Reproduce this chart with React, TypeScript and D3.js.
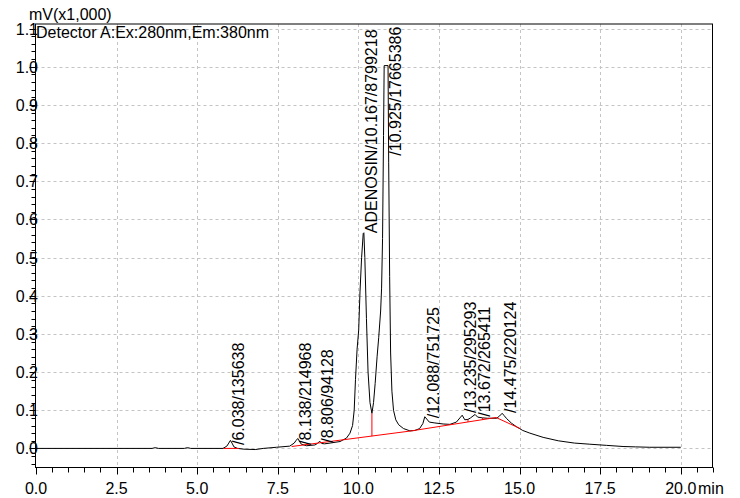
import * as d3 from 'd3';

// chromatogram trace (min, mV x1000)
const signalTime = [
  0.0, 3.6, 3.7, 3.8, 4.6, 4.7, 4.8, 5.8, 5.92, 5.98, 6.03, 6.08, 6.14, 6.25, 6.45, 6.8, 7.05, 7.46, 7.87,
  8.01, 8.06, 8.12, 8.17, 8.23, 8.39, 8.65, 8.73, 8.8, 8.86, 8.95, 9.12, 9.43, 9.63, 9.74, 9.82, 9.87,
  9.91, 9.96, 10.01, 10.05, 10.1, 10.15, 10.17, 10.2, 10.25, 10.3, 10.36, 10.42, 10.47, 10.52, 10.58,
  10.63, 10.69, 10.72, 10.75, 10.78, 10.8, 10.92, 10.94, 10.97, 11.0, 11.04, 11.09, 11.16, 11.25, 11.4,
  11.6, 11.75, 11.9, 12.0, 12.06, 12.12, 12.2, 12.35, 12.63, 12.84, 13.04, 13.15, 13.22, 13.3, 13.4,
  13.48, 13.62, 13.7, 13.85, 14.0, 14.29, 14.38, 14.46, 14.52, 14.6, 14.75, 14.9, 15.1, 15.32, 15.73,
  16.2, 16.7, 17.18, 17.7, 18.21, 18.6, 19.04, 20.0,
];
const signalMv = [
  0.0, 0.0, 0.002, 0.0, 0.0, 0.002, 0.0, 0.0, 0.006, 0.014, 0.021, 0.014, 0.004, 0.0, -0.002, -0.003, 0.0, 0.003, 0.006,
  0.014, 0.02, 0.026, 0.019, 0.011, 0.007, 0.009, 0.013, 0.019, 0.013, 0.012, 0.014, 0.018, 0.027, 0.04, 0.06, 0.1,
  0.18, 0.26, 0.31, 0.41, 0.5, 0.563, 0.565, 0.5, 0.34, 0.2, 0.12, 0.092, 0.12, 0.17, 0.24,
  0.29, 0.36, 0.42, 0.55, 0.82, 1.003, 1.003, 0.75, 0.45, 0.25, 0.15, 0.1, 0.075, 0.062, 0.052,
  0.046, 0.047, 0.052, 0.065, 0.083, 0.077, 0.069, 0.067, 0.064, 0.063, 0.069, 0.08, 0.087, 0.075, 0.076,
  0.08, 0.089, 0.082, 0.08, 0.079, 0.079, 0.085, 0.092, 0.086, 0.078, 0.066, 0.057, 0.047, 0.04, 0.029,
  0.02, 0.014, 0.011, 0.008, 0.005, 0.004, 0.003, 0.003,
];

// integration baselines (red)
const baseline1: [number, number][] = [[5.82, 0.0], [6.3, 0.0]];
const baseline2: [number, number][] = [[7.93, 0.005], [11.65, 0.046], [14.27, 0.081], [15.02, 0.052]];
const dropTimes = [10.42, 13.4, 13.85];
const dropLow = [0.032, 0.069, 0.075];
const dropHigh = [0.092, 0.076, 0.08];

// peak labels
const peakTimes = [6.038, 8.138, 8.806, 10.167, 10.925, 12.088, 13.235, 13.672, 14.475];
const peakNames = ['', '', '', 'ADENOSIN', '', '', '', '', ''];
const peakAreas = [135638, 214968, 94128, 8799218, 17665386, 751725, 295293, 265411, 220124];
const peakLabelMv = [0.009, 0.009, 0.015, 0.564, 0.767, 0.079, 0.093, 0.083, 0.093];

const xTicks = [0, 2.5, 5, 7.5, 10, 12.5, 15, 17.5, 20];
const yTicks = [0, 0.1, 0.2, 0.3, 0.4, 0.5, 0.6, 0.7, 0.8, 0.9, 1.0, 1.1];

const W = 740;
const H = 498;
const L = 35.5, R = 712.5, T = 24, B = 467.5;
const FONT = '"Liberation Sans", Arial, sans-serif';

export default function App() {
  const x = d3.scaleLinear().domain([0, 21]).range([L + 0.5, R + 0.5]);
  const y = d3.scaleLinear().domain([-0.05, 1.112]).range([B, T]);

  const pts: [number, number][] = signalTime.map((t, i) => [t, signalMv[i]]);
  const line = d3.line<[number, number]>().x(d => x(d[0])).y(d => y(d[1]));

  const minorX = d3.range(0, 21.001, 0.5);
  const minorY = d3.range(-0.04, 1.111, 0.02);

  return (
    <svg width={W} height={H} style={{ position: 'absolute', left: 0, top: 0, background: '#fff' }} fontFamily={FONT}>
      {/* grid */}
      <g stroke="#c4c4c4" strokeWidth={1} strokeDasharray="3,3">
        {xTicks.filter(t => t > 0).map(t => (
          <line key={'gx' + t} x1={Math.round(x(t)) + 0.5} x2={Math.round(x(t)) + 0.5} y1={T} y2={B} />
        ))}
        {yTicks.map(t => (
          <line key={'gy' + t} x1={L} x2={R} y1={Math.round(y(t)) + 0.5} y2={Math.round(y(t)) + 0.5} />
        ))}
      </g>

      {/* ticks */}
      <g stroke="#000" strokeWidth={1}>
        {minorX.map(t => {
          const major = Math.abs(t / 2.5 - Math.round(t / 2.5)) < 1e-6;
          const px = Math.round(x(t)) + 0.5;
          return <line key={'tx' + t} x1={px} x2={px} y1={B} y2={B + (major ? 7 : 5)} />;
        })}
        {minorY.map(t => {
          const major = Math.abs(t * 10 - Math.round(t * 10)) < 1e-6;
          const py = Math.round(y(t)) + 0.5;
          return <line key={'ty' + t} x1={L - (major ? 6 : 4)} x2={L} y1={py} y2={py} />;
        })}
      </g>

      {/* trace */}
      <path d={line(pts) || ''} fill="none" stroke="#000" strokeWidth={1} />

      {/* baselines */}
      <g stroke="#ff0000" strokeWidth={1} fill="none">
        <path d={line(baseline1) || ''} />
        <path d={line(baseline2) || ''} />
        {dropTimes.map((t, i) => (
          <line key={'d' + i} x1={x(t)} x2={x(t)} y1={y(dropLow[i])} y2={y(dropHigh[i])} />
        ))}
      </g>

      {/* frame */}
      <rect x={L} y={T} width={R - L} height={B - T} fill="none" stroke="#000" strokeWidth={1} />

      {/* tick labels */}
      <g fontSize={16} fill="#000">
        {xTicks.map(t => (
          <text key={'lx' + t} x={x(t)} y={494} textAnchor="middle">{t.toFixed(1)}</text>
        ))}
        <text x={698} y={494}>min</text>
        {yTicks.map(t => (
          <text key={'ly' + t} x={38} y={y(t) + 6} textAnchor="end">{t.toFixed(1)}</text>
        ))}
        <text x={29} y={20}>mV(x1,000)</text>
        <text x={36} y={38}>Detector A:Ex:280nm,Em:380nm</text>
      </g>

      {/* peak labels */}
      <g fontSize={16} fill="#000">
        {peakTimes.map((t, i) => (
          <text key={'p' + i} transform={`translate(${x(t) + 13},${y(peakLabelMv[i])}) rotate(-90)`}>
            {`${peakNames[i]}/${t.toFixed(3)}/${peakAreas[i]}`}
          </text>
        ))}
      </g>
    </svg>
  );
}
